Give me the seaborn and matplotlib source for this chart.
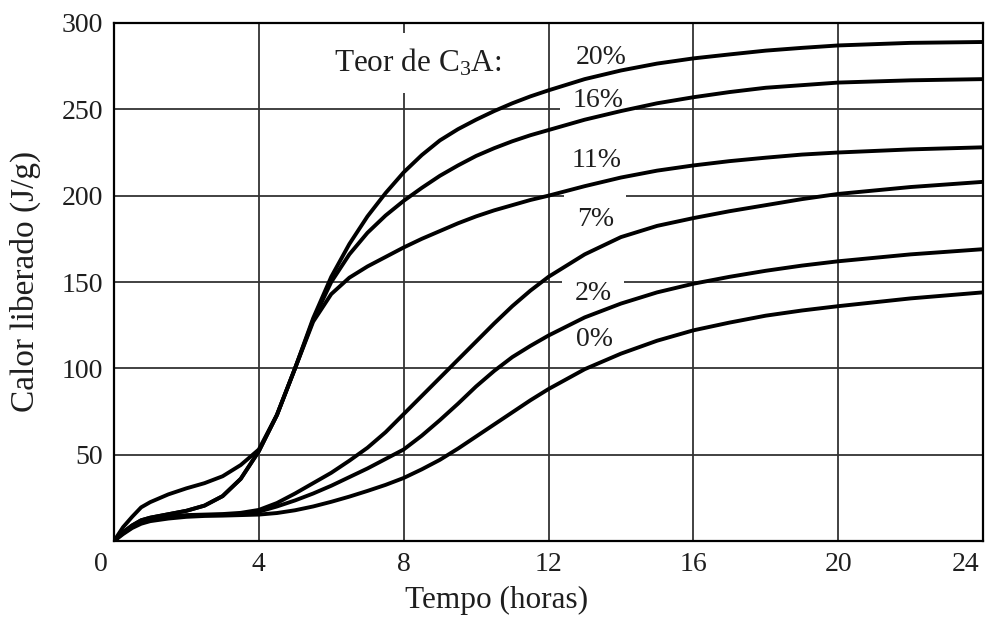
import matplotlib
matplotlib.use("Agg")
import matplotlib.pyplot as plt
import numpy as np
import pandas as pd
import seaborn as sns
from matplotlib.transforms import ScaledTranslation

# Time axis (hours) shared by all the curves
hours = [0, 0.25, 0.5, 0.75, 1, 1.5, 2, 2.5, 3, 3.5, 4, 4.5, 5, 5.5, 6, 6.5,
         7, 7.5, 8, 8.5, 9, 9.5, 10, 10.5, 11, 11.5, 12, 13, 14, 15, 16, 17,
         18, 19, 20, 22, 24]

# Cumulative heat released (J/g) for each C3A content
heat_20 = [0, 8, 14, 19.5, 22.5, 27, 30.5, 33.5, 37.5, 44, 53, 73, 100, 129,
           153, 172, 188, 201.5, 213.5, 223.5, 232, 238.5, 244, 249, 253.5,
           257.5, 261, 267.5, 272.5, 276.5, 279.5, 281.8, 284, 285.6, 287,
           288.5, 289]
heat_16 = [0, 5, 9, 12, 13.5, 15.5, 17.5, 20.5, 26, 36, 52, 73, 100, 128,
           150, 166, 178.5, 188.5, 197, 204.5, 211.5, 217.5, 223, 227.5, 231.5,
           235, 238, 244, 249, 253.5, 257, 260, 262.5, 264, 265.5, 266.8, 267.5]
heat_11 = [0, 5, 9, 12, 13.5, 15.5, 17.5, 20.5, 26, 36, 52, 73, 100, 127,
           143, 152.5, 159, 164.5, 170, 175, 179.5, 184, 188, 191.5, 194.5,
           197.5, 200, 205.5, 210.5, 214.5, 217.5, 220, 222, 223.8, 225,
           226.8, 228]
heat_7 = [0, 5, 8.5, 11, 12.5, 14, 15, 15.3, 15.6, 16.3, 18, 22, 27.5, 33.5,
          39.5, 46.5, 54, 63, 73.5, 84, 94.5, 105, 115.5, 126, 136, 145, 153,
          166, 176, 182.5, 187, 191, 194.5, 198, 201, 205, 208]
heat_2 = [0, 4.5, 8, 10.5, 12, 13.8, 14.6, 15, 15.2, 15.7, 17, 20, 23.5, 27.5,
          32, 37, 42, 47.5, 53, 61, 70, 79.5, 89.5, 98.5, 106.5, 113, 119,
          129.5, 137.5, 144, 149, 153, 156.5, 159.5, 162, 166, 169]
heat_0 = [0, 4, 7.5, 10, 11.5, 13, 14, 14.5, 14.7, 15, 15.3, 16.2, 17.8, 20,
          22.7, 25.7, 29, 32.5, 36.5, 41.5, 47, 53.5, 60.5, 67.5, 74.5, 81.5,
          88, 99.5, 108.5, 116, 122, 126.5, 130.5, 133.5, 136, 140.5, 144]

contents = ["20%", "16%", "11%", "7%", "2%", "0%"]
curves = [heat_20, heat_16, heat_11, heat_7, heat_2, heat_0]

# Where each content label sits (hours, J/g)
label_x = [13.45, 13.37, 13.34, 13.29, 13.23, 13.26]
label_y = [280, 255, 220.5, 186, 143.5, 116.5]

x_ticks = [0, 4, 8, 12, 16, 20, 24]
y_ticks = [50, 100, 150, 200, 250, 300]

df = pd.concat(
    [pd.DataFrame({"Tempo": hours, "Calor": vals, "C3A": name})
     for name, vals in zip(contents, curves)],
    ignore_index=True,
)

sns.set_style("white")
plt.rcParams["font.family"] = ["Liberation Serif", "DejaVu Serif"]
plt.rcParams["mathtext.fontset"] = "custom"
plt.rcParams["mathtext.rm"] = "Liberation Serif"
plt.rcParams["mathtext.it"] = "Liberation Serif:italic"

ink = "#1e1e1e"

fig, ax = plt.subplots(figsize=(9.93, 6.19), dpi=100)
fig.subplots_adjust(left=114 / 993, right=983 / 993,
                    bottom=1 - 541 / 619, top=1 - 23 / 619)

sns.lineplot(data=df, x="Tempo", y="Calor", hue="C3A",
             palette={c: "black" for c in contents},
             estimator=None, sort=False, legend=False,
             lw=2.8, zorder=3, ax=ax)
for line in ax.get_lines():
    line.set_solid_joinstyle("round")
    line.set_solid_capstyle("round")

ax.set_xlim(0, 24)
ax.set_ylim(0, 300)
ax.set_xticks(x_ticks)
ax.set_yticks(y_ticks)
ax.set_axisbelow(True)
ax.grid(True, color="#333333", lw=1.3)

for side in ax.spines.values():
    side.set_color("black")
    side.set_linewidth(1.6)

ax.tick_params(axis="both", direction="out", length=3, width=1.2,
               colors=ink, labelsize=20, pad=5)

# Corner labels: "0" sits left of the origin, "24" inside the right edge
xlabels = ax.get_xticklabels()
xlabels[0].set_horizontalalignment("right")
xlabels[0].set_transform(xlabels[0].get_transform()
                         + ScaledTranslation(-6 / 100, 0, fig.dpi_scale_trans))
xlabels[-1].set_horizontalalignment("right")
xlabels[-1].set_transform(xlabels[-1].get_transform()
                          + ScaledTranslation(-4 / 100, 0, fig.dpi_scale_trans))

ax.set_xlabel("Tempo (horas)", fontsize=22.5, color=ink, va="center")
ax.xaxis.set_label_coords((497 - 114) / 869, (541 - 600) / 518)
ax.set_ylabel("Calor liberado (J/g)", fontsize=24, color=ink, va="center")
ax.yaxis.set_label_coords((25 - 114) / 869, (541 - 281) / 518)

box = dict(boxstyle="square,pad=0.45", fc="white", ec="none")
ax.text(8.4, 277, "Teor de C$_3$A:", fontsize=22.5, color=ink,
        ha="center", va="center", zorder=2, bbox=box)
for name, lx, ly in zip(contents, label_x, label_y):
    ax.text(lx, ly, name, fontsize=20, color=ink,
            ha="center", va="center", zorder=2, bbox=box)

fig.savefig("out.png", dpi=100, facecolor="white")
